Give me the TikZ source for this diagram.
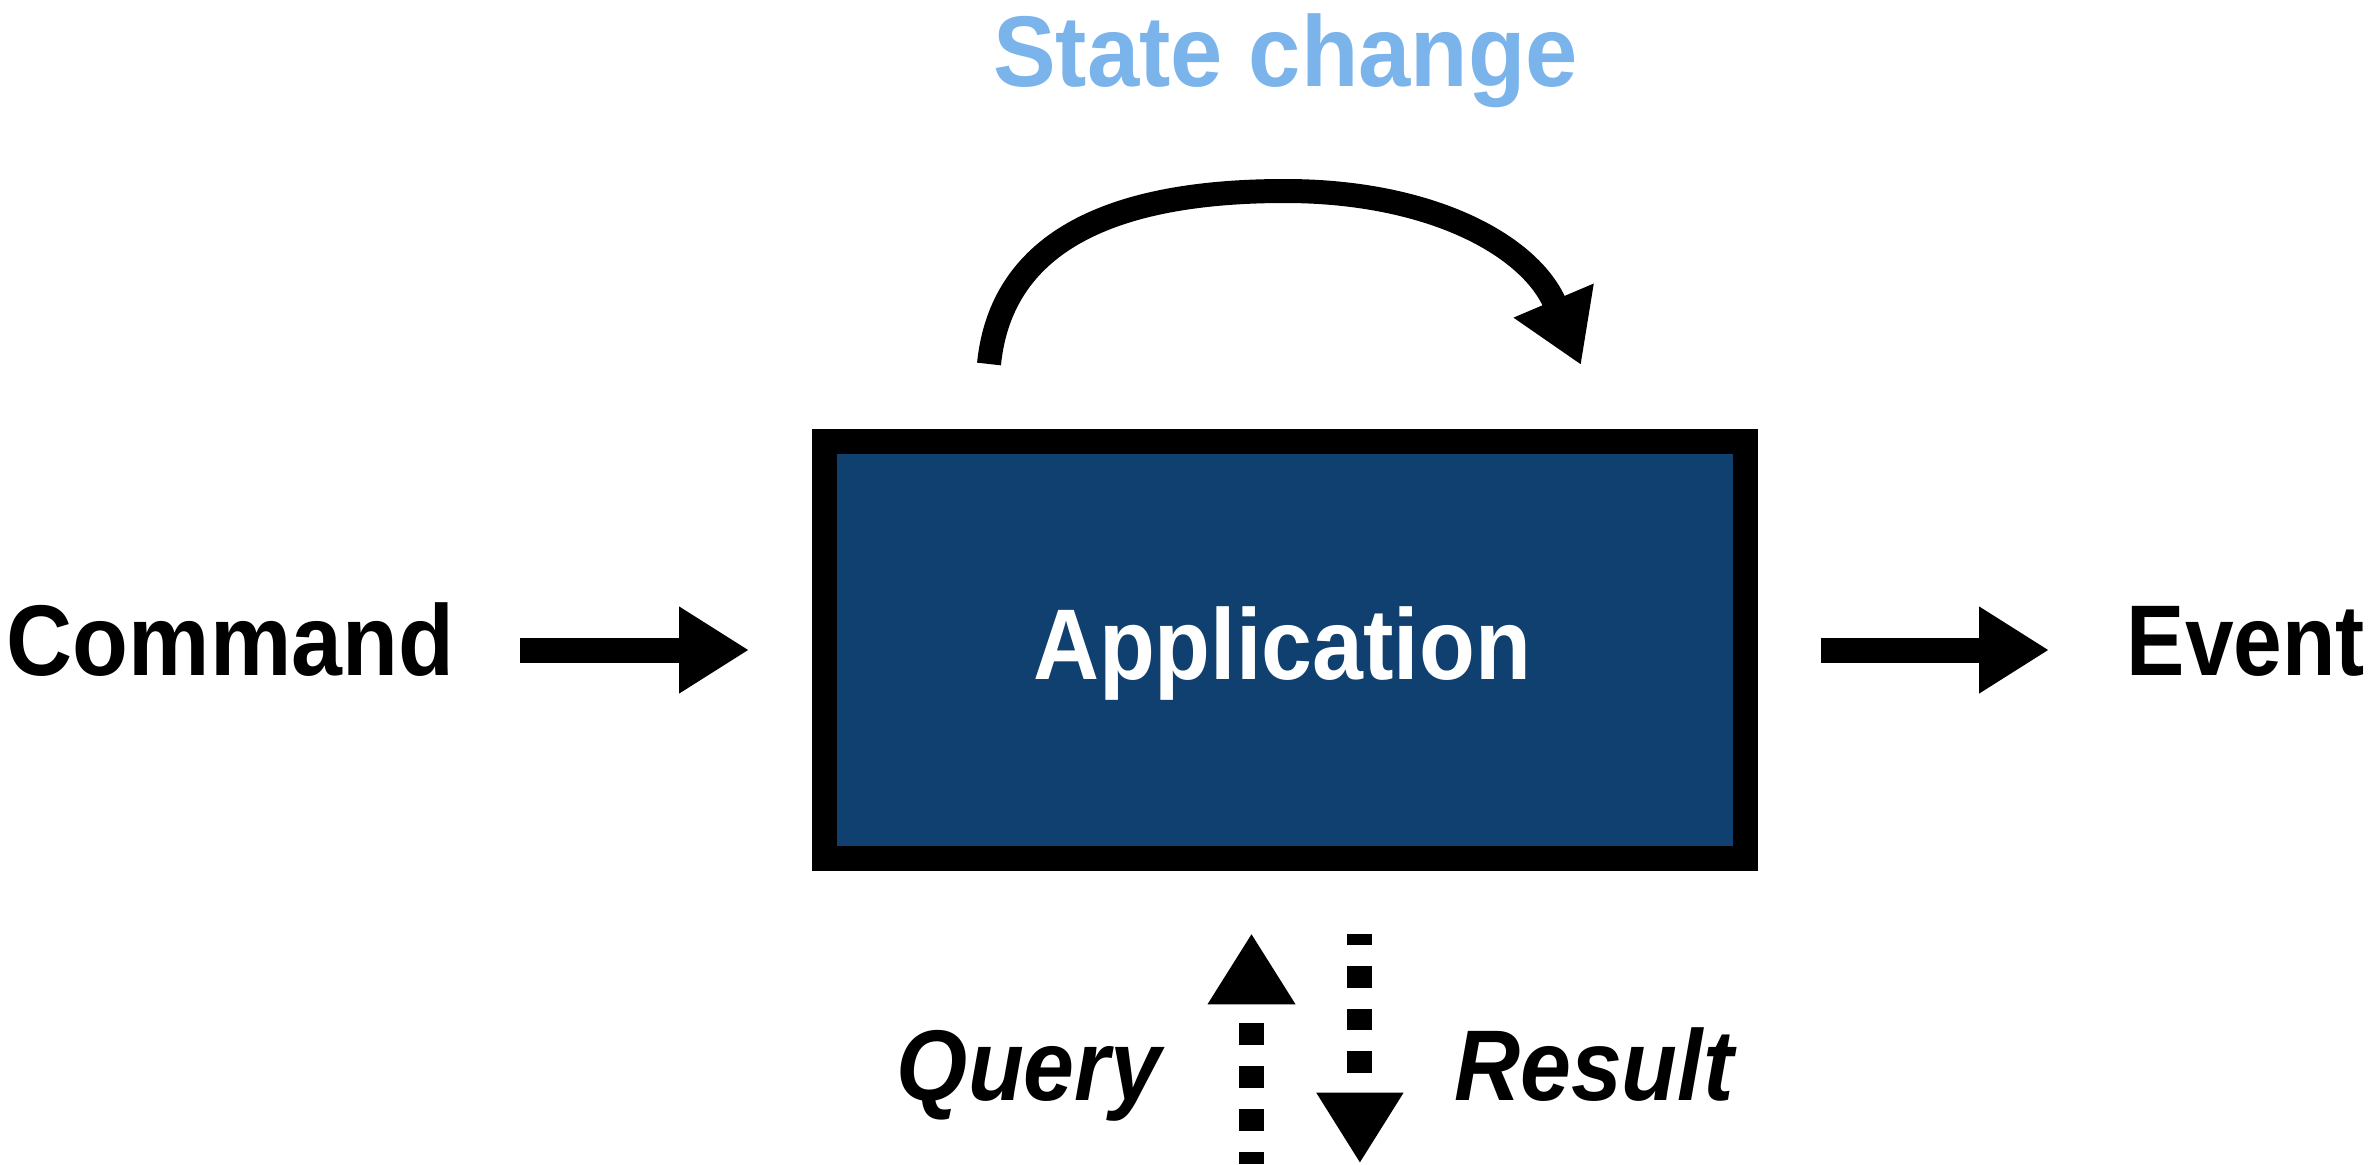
\documentclass[tikz,border=0pt]{standalone}
\usepackage{fontspec}
\setmainfont{Liberation Sans}[FakeStretch=0.91]
\newfontfamily\narrowfont{Liberation Sans}[FakeStretch=0.87]
\newfontfamily\widefont{Liberation Sans}[FakeStretch=0.935]
\usetikzlibrary{arrows.meta}
\definecolor{appblue}{RGB}{15,64,111}
\definecolor{statecol}{RGB}{122,180,234}
\tikzset{
  lbl/.style={font=\fontsize{100.5}{120}\selectfont\bfseries, inner sep=0pt, anchor=base},
  ilbl/.style={font=\fontsize{100.5}{120}\selectfont\bfseries\itshape, inner sep=0pt, anchor=base},
  bigarrow/.style={line width=25pt, -{Triangle[length=70pt,width=82pt]}},
  dasharrow/.style={line width=25pt, dash pattern=on 21.7pt off 21pt},
}
\begin{document}
\begin{tikzpicture}[x=1pt,y=-1pt]
\useasboundingbox (0,0) rectangle (2368,1164);
% main box
\node[draw=black, line width=24.7pt, fill=appblue, minimum width=921pt, minimum height=417pt, inner sep=0pt] (app) at (1285.2,650) {};
\node[lbl, text=white] (apptxt) at (1282,679) {Application};
% labels
\node[lbl] (cmd) at (230.5,675) {Command};
\node[lbl, anchor=base east, font=\fontsize{100.5}{120}\selectfont\narrowfont\bfseries] (evt) at (2365,675) {Event};
\node[lbl, text=statecol, font=\fontsize{100.5}{120}\selectfont\widefont\bfseries] (state) at (1285.5,86.7) {State change};
\node[ilbl] (query) at (1029,1100) {Query};
\node[ilbl] (result) at (1594,1100) {Result};
% connector end points
\coordinate (cmdA) at (520,650);
\coordinate (cmdB) at (749,650);
\coordinate (evtA) at (1820.5,650);
\coordinate (evtB) at (2049,650);
\coordinate (stA) at (989,364);
\coordinate (stB) at (1581,365);
\coordinate (qA) at (1251.5,1164);
\coordinate (qB) at (1251.5,933.3);
\coordinate (rA) at (1359.9,934.3);
\coordinate (rB) at (1359.9,1163.3);
% arrows
\draw[bigarrow] (cmdA) -- (cmdB);
\draw[bigarrow] (evtA) -- (evtB);
\draw[line width=24pt, -{Triangle[length=70pt,width=82pt]}]
  (stA) .. controls (1000,255) and (1090,191) .. (1285,191)
        .. controls (1430,191) and (1530,245) .. (stB);
\draw[dasharrow, dash phase=9.2pt, -{Triangle[length=71pt,width=82.7pt]}] (qA) -- (qB);
\draw[dasharrow, dash phase=11pt, -{Triangle[length=70.6pt,width=82pt]}] (rA) -- (rB);
\end{tikzpicture}
\end{document}
